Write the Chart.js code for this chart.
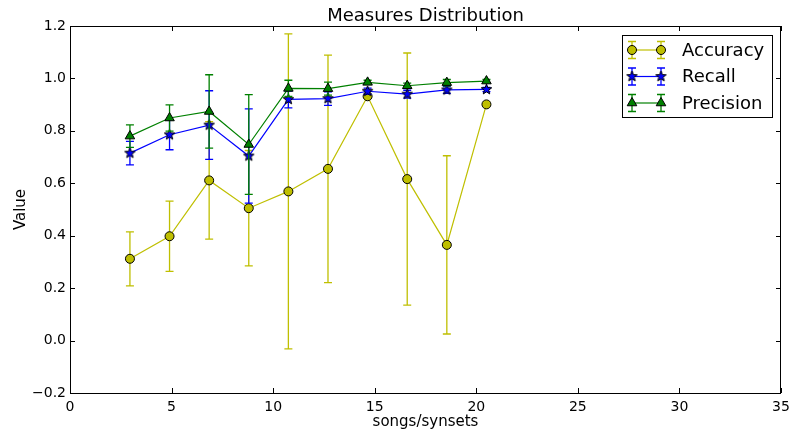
<!DOCTYPE html>
<html>
<head>
<meta charset="utf-8">
<script src="https://cdn.jsdelivr.net/npm/chart.js@4.4.1/dist/chart.umd.min.js"></script>
<style>
  html, body { margin: 0; padding: 0; background: #fff; }
  #wrap { width: 793px; height: 435px; position: relative; }
</style>
</head>
<body>
<div id="wrap"><canvas id="chart" width="793" height="435"></canvas></div>
<script>
/* data */
const xVals = [2.95, 4.9, 6.85, 8.8, 10.75, 12.7, 14.65, 16.6, 18.55, 20.5];
const accuracy = [0.312, 0.398, 0.611, 0.505, 0.569, 0.655, 0.932, 0.616, 0.365, 0.901];
const accuracyErr = [0.103, 0.134, 0.224, 0.220, 0.601, 0.434, 0.0, 0.481, 0.340, 0.0];
const recall = [0.715, 0.785, 0.822, 0.704, 0.920, 0.923, 0.951, 0.940, 0.956, 0.958];
const recallErr = [0.045, 0.057, 0.131, 0.180, 0.032, 0.026, 0.012, 0.015, 0.013, 0.008];
const precision = [0.780, 0.849, 0.874, 0.748, 0.962, 0.961, 0.985, 0.972, 0.984, 0.990];
const precisionErr = [0.043, 0.050, 0.140, 0.190, 0.031, 0.025, 0.008, 0.010, 0.012, 0.006];
const seriesNames = ['Accuracy', 'Recall', 'Precision'];
const xTicks = [0, 5, 10, 15, 20, 25, 30, 35];
const yTicks = [-0.2, 0, 0.2, 0.4, 0.6, 0.8, 1.0, 1.2];

const YEL = '#bfbf00', BLUE = '#0000ff', GREEN = '#008000';
const FONT = '"DejaVu Sans", "Liberation Sans", sans-serif';

// filled star marker with black edge (Chart.js 'star' is line-only)
function starImage(fill, size) {
  const c = document.createElement('canvas');
  c.width = c.height = size;
  const g = c.getContext('2d'), m = size / 2, R = size / 2 - 1, r = R * 0.42;
  g.beginPath();
  for (let i = 0; i < 10; i++) {
    const a = -Math.PI / 2 + i * Math.PI / 5, rad = i % 2 ? r : R;
    const px = m + rad * Math.cos(a), py = m + rad * Math.sin(a);
    i ? g.lineTo(px, py) : g.moveTo(px, py);
  }
  g.closePath();
  g.fillStyle = fill; g.fill();
  g.strokeStyle = '#000'; g.lineWidth = 1; g.stroke();
  return c;
}
const star = starImage(BLUE, 13);

const pts = (ys) => xVals.map((x, i) => ({ x, y: ys[i] }));

const series = [
  { label: seriesNames[0], data: pts(accuracy), err: accuracyErr, color: YEL, style: 'circle', radius: 4.5, order: 3 },
  { label: seriesNames[1], data: pts(recall), err: recallErr, color: BLUE, style: star, radius: 5, order: 2 },
  { label: seriesNames[2], data: pts(precision), err: precisionErr, color: GREEN, style: 'triangle', radius: 5.5, order: 1 }
];

function drawErr(ctx, x, yTop, yBot, color, cap) {
  ctx.save();
  ctx.strokeStyle = color; ctx.lineWidth = 1.3;
  ctx.beginPath();
  ctx.moveTo(x, yTop); ctx.lineTo(x, yBot);
  ctx.moveTo(x - cap, yTop); ctx.lineTo(x + cap, yTop);
  ctx.moveTo(x - cap, yBot); ctx.lineTo(x + cap, yBot);
  ctx.stroke();
  ctx.restore();
}

function drawMarker(ctx, s, x, y) {
  ctx.save();
  if (s.style === 'circle') {
    ctx.beginPath(); ctx.arc(x, y, s.radius, 0, Math.PI * 2);
    ctx.fillStyle = s.color; ctx.fill(); ctx.strokeStyle = '#000'; ctx.lineWidth = 1; ctx.stroke();
  } else if (s.style === 'triangle') {
    const r = s.radius;
    ctx.beginPath();
    ctx.moveTo(x, y - r); ctx.lineTo(x - r * 0.87, y + r * 0.5); ctx.lineTo(x + r * 0.87, y + r * 0.5); ctx.closePath();
    ctx.fillStyle = s.color; ctx.fill(); ctx.strokeStyle = '#000'; ctx.lineWidth = 1; ctx.stroke();
  } else {
    ctx.drawImage(s.style, x - s.style.width / 2, y - s.style.height / 2);
  }
  ctx.restore();
}

/* error bars: drawn just before each dataset so the stacking matches the original */
const errorBars = {
  id: 'errorBars',
  beforeDatasetDraw(chart, args) {
    const s = series[args.index], { ctx } = chart;
    const xs = chart.scales.x, ys = chart.scales.y;
    s.data.forEach((p, i) => {
      const e = s.err[i];
      if (!e) return;
      const px = xs.getPixelForValue(p.x);
      drawErr(ctx, px, ys.getPixelForValue(p.y + e), ys.getPixelForValue(p.y - e), s.color, 4);
    });
  }
};

/* classic matplotlib frame: full box, inward ticks on all sides, titles, legend */
const frame = {
  id: 'frame',
  afterDraw(chart) {
    const { ctx, chartArea: a } = chart, xs = chart.scales.x, ys = chart.scales.y;
    ctx.save();
    ctx.strokeStyle = '#000'; ctx.lineWidth = 1;
    ctx.strokeRect(a.left + 0.5, a.top + 0.5, a.right - a.left - 1, a.bottom - a.top);
    ctx.beginPath();
    const tl = 5;
    xTicks.forEach((v) => {
      const px = Math.round(xs.getPixelForValue(v)) + 0.5;
      ctx.moveTo(px, a.bottom); ctx.lineTo(px, a.bottom - tl);
      ctx.moveTo(px, a.top); ctx.lineTo(px, a.top + tl);
    });
    yTicks.forEach((v) => {
      const py = Math.round(ys.getPixelForValue(v)) + 0.5;
      ctx.moveTo(a.left, py); ctx.lineTo(a.left + tl, py);
      ctx.moveTo(a.right, py); ctx.lineTo(a.right - tl, py);
    });
    ctx.stroke();

    // titles
    ctx.fillStyle = '#000';
    ctx.textAlign = 'center'; ctx.textBaseline = 'alphabetic';
    ctx.font = '18px ' + FONT;
    ctx.fillText('Measures Distribution', (a.left + a.right) / 2, 21);
    ctx.font = '15px ' + FONT;
    ctx.fillText('songs/synsets', (a.left + a.right) / 2, 426);
    ctx.save();
    ctx.translate(25, (a.top + a.bottom) / 2);
    ctx.rotate(-Math.PI / 2);
    ctx.fillText('Value', 0, 0);
    ctx.restore();

    // legend
    const L = { x: 622, y: 35, w: 150, h: 82 };
    ctx.fillStyle = '#fff';
    ctx.fillRect(L.x, L.y, L.w, L.h);
    ctx.strokeStyle = '#000'; ctx.lineWidth = 1;
    ctx.strokeRect(L.x + 0.5, L.y + 0.5, L.w, L.h);
    ctx.font = '18px ' + FONT;
    ctx.textAlign = 'left'; ctx.textBaseline = 'middle';
    series.forEach((s, i) => {
      const yy = 50 + i * 26.5, x1 = 632, x2 = 661;
      ctx.strokeStyle = s.color; ctx.lineWidth = 1.2;
      ctx.beginPath(); ctx.moveTo(x1, yy); ctx.lineTo(x2, yy); ctx.stroke();
      drawErr(ctx, x1, yy - 8.5, yy + 8.5, s.color, 4);
      drawErr(ctx, x2, yy - 8.5, yy + 8.5, s.color, 4);
      drawMarker(ctx, s, x1, yy);
      drawMarker(ctx, s, x2, yy);
      ctx.fillStyle = '#000';
      ctx.fillText(s.label, 682, yy + 1);
    });
    ctx.restore();
  }
};

const fmt = (v) => {
  const t = Number(v).toFixed(1);
  return t.startsWith('-') ? '\u2212' + t.slice(1) : t;
};

new Chart(document.getElementById('chart'), {
  type: 'line',
  data: {
    datasets: series.map((s) => ({
      label: s.label, data: s.data, order: s.order,
      borderColor: s.color, borderWidth: 1.2, backgroundColor: s.color,
      pointStyle: s.style, pointRadius: s.radius, pointBorderColor: '#000', pointBorderWidth: 1,
      pointBackgroundColor: s.color, tension: 0, fill: false
    }))
  },
  options: {
    responsive: false, animation: false, events: [],
    layout: { padding: { top: 26, right: 12, left: 0, bottom: 0 } },
    plugins: { legend: { display: false }, title: { display: false }, tooltip: { enabled: false } },
    scales: {
      x: {
        type: 'linear', min: 0, max: 35,
        // fixed height, and no extra room for the end labels (plot box spans 70..781)
        afterFit: (sc) => { sc.height = 42; sc.paddingLeft = 0; sc.paddingRight = 0; },
        afterBuildTicks: (sc) => { sc.ticks = xTicks.map((v) => ({ value: v })); },
        grid: { display: false, drawTicks: false }, border: { display: false },
        ticks: { color: '#000', padding: 6, maxRotation: 0, font: { family: FONT, size: 14 }, callback: (v) => String(v) }
      },
      y: {
        type: 'linear', min: -0.2, max: 1.2,
        afterFit: (sc) => { sc.width = 70; sc.paddingTop = 0; sc.paddingBottom = 0; },
        afterBuildTicks: (sc) => { sc.ticks = yTicks.map((v) => ({ value: v })); },
        grid: { display: false, drawTicks: false }, border: { display: false },
        ticks: { color: '#000', padding: 4, font: { family: FONT, size: 14 }, callback: fmt }
      }
    }
  },
  plugins: [errorBars, frame]
});
</script>
</body>
</html>
